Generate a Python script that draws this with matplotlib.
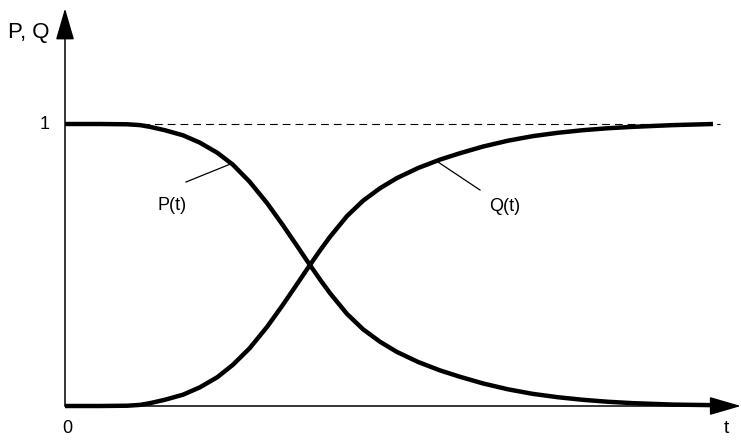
import matplotlib
matplotlib.use('Agg')
import matplotlib.pyplot as plt

plt.rcParams['font.family'] = ['Liberation Sans', 'DejaVu Sans']

# values (t in the picture's own units, 0..10)
t_vals = [0.00, 0.54, 0.96, 1.16, 1.31, 1.54, 1.82, 2.08, 2.35, 2.59, 2.85, 3.12,
          3.36, 3.58, 3.75, 3.94, 4.09, 4.35, 4.60, 4.86, 5.12, 5.45, 5.79, 6.09,
          6.45, 6.84, 7.22, 7.61, 7.99, 8.38, 8.77, 9.38, 10.00]
p_vals = [1.000, 1.000, 0.999, 0.996, 0.990, 0.978, 0.960, 0.934, 0.898, 0.856,
          0.795, 0.719, 0.642, 0.568, 0.510, 0.447, 0.400, 0.327, 0.272, 0.228,
          0.192, 0.156, 0.126, 0.104, 0.080, 0.059, 0.043, 0.031, 0.022, 0.015,
          0.010, 0.005, 0.003]
q_vals = [0.000, 0.000, 0.001, 0.004, 0.010, 0.022, 0.040, 0.066, 0.102, 0.146,
          0.205, 0.281, 0.358, 0.432, 0.490, 0.553, 0.600, 0.673, 0.728, 0.772,
          0.808, 0.844, 0.874, 0.896, 0.920, 0.941, 0.957, 0.969, 0.978, 0.985,
          0.990, 0.996, 1.000]

level = 1.0
x_end = 10.43
y_top = 1.41

fig = plt.figure(figsize=(7.41, 4.40), dpi=100)
ax = fig.add_axes([0, 0, 1, 1])
ax.set_xlim(-65 / 64.8, 676 / 64.8)
ax.set_ylim(-34 / 282, 406 / 282)
ax.axis('off')

def px(x, y):
    # picture pixel -> data coords
    return (x - 65) / 64.8, (406 - y) / 282

arrow = dict(arrowstyle='-|>,head_length=1.1,head_width=0.32', color='black',
             lw=1.1, shrinkA=0, shrinkB=0, mutation_scale=18)
ax.annotate('', xy=(0, y_top), xytext=(0, 0), arrowprops=arrow)
ax.annotate('', xy=(x_end, 0), xytext=(0, 0), arrowprops=arrow)

# dashed level 1
ax.plot([0, px(720, 0)[0]], [level, level], color='black', lw=0.8, dashes=(7, 4.5))

ax.plot(t_vals, p_vals, color='black', lw=3.2, solid_joinstyle='round', solid_capstyle='butt')
ax.plot(t_vals, q_vals, color='black', lw=3.2, solid_joinstyle='round', solid_capstyle='butt')

# leader lines
x1, y1 = px(186, 182)
x2, y2 = px(233, 163)
ax.plot([x1, x2], [y1, y2], color='black', lw=0.9)
x1, y1 = px(438, 162)
x2, y2 = px(480, 190)
ax.plot([x1, x2], [y1, y2], color='black', lw=0.9)

fs = 13
ax.text(*px(172, 205), 'P(t)', fontsize=fs, ha='center', va='center')
ax.text(*px(505, 206), 'Q(t)', fontsize=fs, ha='center', va='center')
ax.text(*px(29, 32), 'P, Q', fontsize=16, ha='center', va='center')
ax.text(*px(45, 124), '1', fontsize=fs, ha='center', va='center')
ax.text(*px(67, 428), '0', fontsize=fs, ha='center', va='center')
ax.text(*px(726, 428), 't', fontsize=14, ha='center', va='center')

fig.savefig('out.png', dpi=100)
